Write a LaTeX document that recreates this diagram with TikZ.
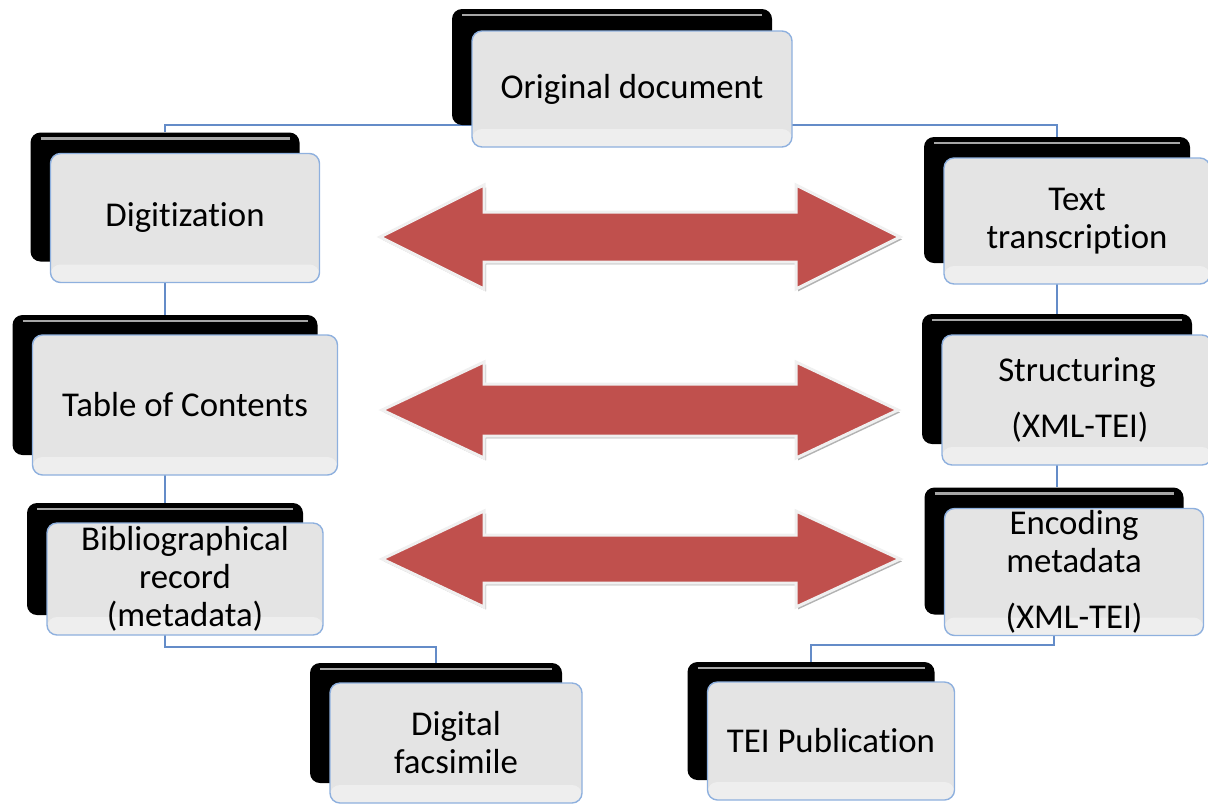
\documentclass[tikz,border=0pt]{standalone}
\usepackage{fontspec}
\setmainfont{Carlito}[Ligatures=NoCommon]
\usetikzlibrary{positioning,shadows}
\pgfdeclarelayer{bg}
\pgfsetlayers{bg,main}
\definecolor{arrowred}{RGB}{192,80,77}
\definecolor{boxline}{RGB}{142,176,222}
\definecolor{linkblue}{RGB}{100,140,200}
\definecolor{boxgray}{RGB}{228,228,228}
\tikzset{
  backbox/.style={fill=black, rounded corners=5pt, inner sep=0pt,
    path picture={\draw[gray!70, line width=1.2pt]
      ([xshift=5pt,yshift=-3pt]path picture bounding box.north west) --
      ([xshift=-5pt,yshift=-3pt]path picture bounding box.north east);}},
  stepbox/.style={draw=boxline, line width=0.7pt, fill=boxgray,
    rounded corners=5pt, inner sep=0pt, align=center,
    font=\fontsize{17.4}{19}\selectfont,
    path picture={\fill[white,opacity=0.4]
      ([yshift=9pt]path picture bounding box.south west) rectangle
      (path picture bounding box.south east);}},
  link/.style={draw=linkblue, line width=1pt},
  bigarrow/.style={fill=arrowred, draw=gray!12, line width=1.5pt,
    general shadow={shadow xshift=1pt, shadow yshift=-1.2pt, fill=gray!60}}
}

\begin{document}
\begin{tikzpicture}[x=0.5pt,y=-0.5pt]
    \useasboundingbox (0,0) rectangle (1208,804);

    % top
    \node[backbox, minimum width=160pt, minimum height=58pt] (origB) at (612,67) {};
    \node[stepbox, minimum width=160pt, minimum height=58pt] (orig) at ([shift={(20,22)}]origB.center) {Original document};

    % left column
    \node[backbox, minimum width=134.5pt, minimum height=64.5pt] (digB) at (165,197) {};
    \node[stepbox, minimum width=134.5pt, minimum height=64.5pt] (dig) at ([shift={(20,21)}]digB.center) {Digitization};

    \node[backbox, minimum width=152.5pt, minimum height=70pt] (tocB) at (165,385) {};
    \node[stepbox, minimum width=152.5pt, minimum height=70pt] (toc) at ([shift={(20,20)}]tocB.center) {Table of Contents};

    \node[backbox, minimum width=138pt, minimum height=56pt] (bibB) at (165,559) {};
    \node[stepbox, minimum width=138pt, minimum height=56pt] (bib) at ([shift={(20,20)}]bibB.center) {Bibliographical\\record\\(metadata)};

    \node[backbox, minimum width=126pt, minimum height=60pt] (facB) at (436,723) {};
    \node[stepbox, minimum width=126pt, minimum height=60pt] (fac) at ([shift={(20,20)}]facB.center) {Digital\\facsimile};

    % right column
    \node[backbox, minimum width=133pt, minimum height=63pt] (txtB) at (1057,200) {};
    \node[stepbox, minimum width=133pt, minimum height=63pt] (txt) at ([shift={(20,21)}]txtB.center) {Text\\transcription};

    \node[backbox, minimum width=135pt, minimum height=65pt] (strB) at (1057,379) {};
    \node[stepbox, minimum width=135pt, minimum height=65pt] (str) at ([shift={(20,21)}]strB.center) {Structuring\\[9pt]\,(XML-TEI)};

    \node[backbox, minimum width=129.5pt, minimum height=63.5pt] (encB) at (1054,551) {};
    \node[stepbox, minimum width=129.5pt, minimum height=63.5pt] (enc) at ([shift={(20,21)}]encB.center) {Encoding\\metadata\\[9pt](XML-TEI)};

    \node[backbox, minimum width=123.5pt, minimum height=59pt] (teiB) at (811,721) {};
    \node[stepbox, minimum width=123.5pt, minimum height=59pt] (tei) at ([shift={(20,20)}]teiB.center) {TEI Publication};

    % links
    \begin{pgfonlayer}{bg}
    \draw[link] (digB.north) |- (origB.south) -| (txtB.north);
    \draw[link] (digB.south) -- (tocB.north);
    \draw[link] (tocB.south) -- (bibB.north);
    \draw[link] (bibB.south) -- ([yshift=-16pt]bibB.south) -| (facB.north);
    \draw[link] (txtB.south) -- (strB.north);
    \draw[link] (strB.south) -- (strB.south |- encB.north);
    \draw[link] (encB.south) -- ([yshift=-15pt]encB.south) -| (teiB.north);
    \end{pgfonlayer}

    % double arrows
    \draw[bigarrow] (380,237) -- (484,185) -- (484,212) -- (796,212) -- (796,185) -- (900,237)
        -- (796,289) -- (796,262) -- (484,262) -- (484,289) -- cycle;
    \draw[bigarrow] (382,410) -- (484,362) -- (484,384) -- (796,384) -- (796,362) -- (898,410)
        -- (796,458) -- (796,436) -- (484,436) -- (484,458) -- cycle;
    \draw[bigarrow] (382,559) -- (484,511) -- (484,535) -- (796,535) -- (796,511) -- (900,559)
        -- (796,607) -- (796,583) -- (484,583) -- (484,607) -- cycle;
\end{tikzpicture}
\end{document}
